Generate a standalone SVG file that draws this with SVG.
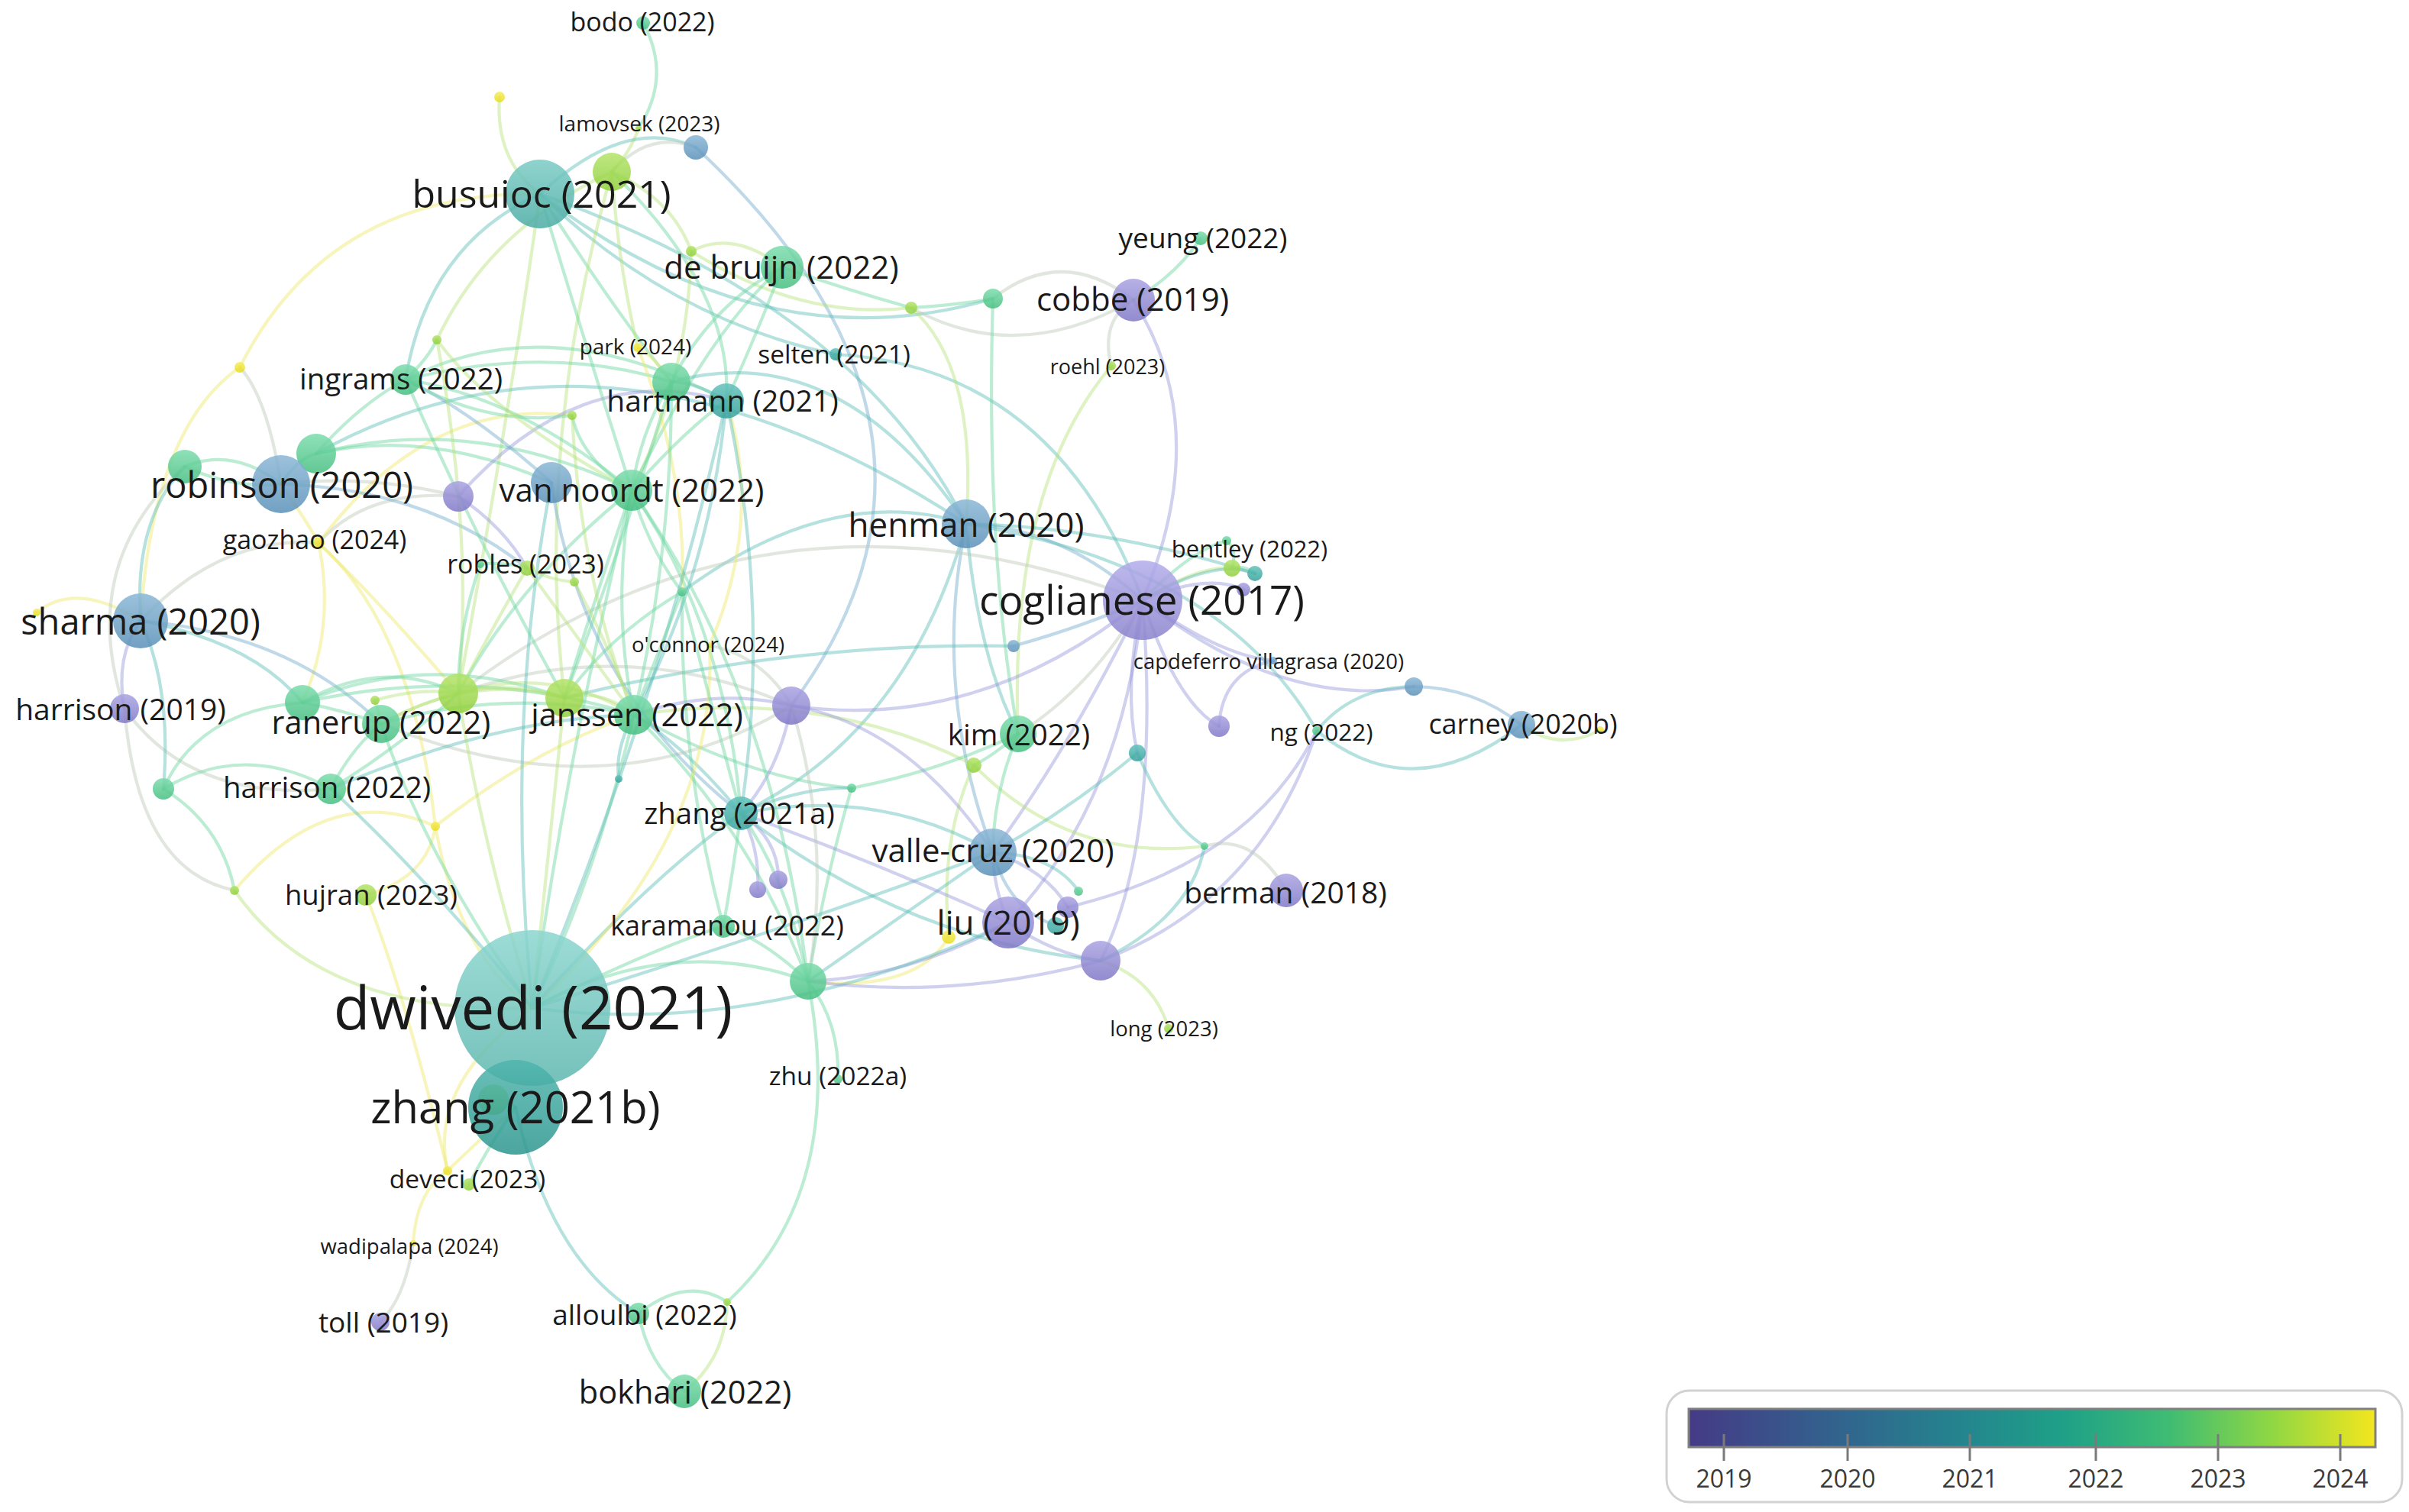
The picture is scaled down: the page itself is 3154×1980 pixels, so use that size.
<svg xmlns="http://www.w3.org/2000/svg" width="3154" height="1980" viewBox="0 0 3154 1980">
<style>
#edges path{fill:none;stroke-width:4.2;stroke-opacity:.45;stroke-linecap:round}
.t{stroke:#5cbdb8}.g{stroke:#6bd6a0}.p{stroke:#9797dc}.b{stroke:#74aacb}.y{stroke:#eee86a}.yg{stroke:#b5e27a}.gy{stroke:#bccab8}
.nP{fill:url(#gP)}.nB{fill:url(#gB)}.nT{fill:url(#gT)}.nG{fill:url(#gG)}.nYG{fill:url(#gYG)}.nY{fill:url(#gY)}
circle{fill-opacity:.85}
text{font-family:"Open Sans","Liberation Sans",sans-serif;fill:#1a1a1a;text-anchor:middle;dominant-baseline:central}
.leg{font-size:32px;fill:#3a3a3a;dominant-baseline:auto}
</style>
<defs>
<linearGradient id="viridis" x1="0" y1="0" x2="1" y2="0">
<stop offset="0" stop-color="#453a86"/>
<stop offset="0.2" stop-color="#33608d"/>
<stop offset="0.4" stop-color="#24858e"/>
<stop offset="0.55" stop-color="#1fa187"/>
<stop offset="0.7" stop-color="#3fbc73"/>
<stop offset="0.85" stop-color="#90d743"/>
<stop offset="1" stop-color="#f4e61e"/>
</linearGradient>
<linearGradient id="gP" x1="0" y1="0" x2="0" y2="1"><stop offset="0" stop-color="#aaa3e2"/><stop offset="1" stop-color="#7f77c6"/></linearGradient>
<linearGradient id="gB" x1="0" y1="0" x2="0" y2="1"><stop offset="0" stop-color="#8ab7d6"/><stop offset="1" stop-color="#5a90b8"/></linearGradient>
<linearGradient id="gT" x1="0" y1="0" x2="0" y2="1"><stop offset="0" stop-color="#62c2bc"/><stop offset="1" stop-color="#35a09a"/></linearGradient>
<linearGradient id="gG" x1="0" y1="0" x2="0" y2="1"><stop offset="0" stop-color="#7cdcac"/><stop offset="1" stop-color="#45be80"/></linearGradient>
<linearGradient id="gYG" x1="0" y1="0" x2="0" y2="1"><stop offset="0" stop-color="#b4e46a"/><stop offset="1" stop-color="#8fcf3c"/></linearGradient>
<linearGradient id="gY" x1="0" y1="0" x2="0" y2="1"><stop offset="0" stop-color="#f6ec60"/><stop offset="1" stop-color="#e8dc1c"/></linearGradient>
<linearGradient id="gDw" x1="0" y1="0" x2="0" y2="1"><stop offset="0" stop-color="#8cd6cf"/><stop offset="1" stop-color="#5cb6ae"/></linearGradient>
<linearGradient id="gZb" x1="0" y1="0" x2="0" y2="1"><stop offset="0" stop-color="#4fb5ad"/><stop offset="1" stop-color="#2c968e"/></linearGradient>
<linearGradient id="gBu" x1="0" y1="0" x2="0" y2="1"><stop offset="0" stop-color="#7ccbc5"/><stop offset="1" stop-color="#4aaba4"/></linearGradient>
<linearGradient id="gCo" x1="0" y1="0" x2="0" y2="1"><stop offset="0" stop-color="#b2acea"/><stop offset="1" stop-color="#8a82cc"/></linearGradient>
</defs>
<rect width="3154" height="1980" fill="#ffffff"/>
<g id="edges">
<path class="g" d="M842 30 Q880 100 836 168"/>
<path class="yg" d="M836 168 Q825 200 801 225"/>
<path class="yg" d="M654 127 Q648 210 707 254"/>
<path class="t" d="M707 254 Q820 150 911 193"/>
<path class="gy" d="M801 225 Q850 170 911 193"/>
<path class="b" d="M911 193 Q1306 561 1036 924"/>
<path class="t" d="M707 254 Q880 420 1094 464"/>
<path class="t" d="M1094 464 Q1380 480 1496 786"/>
<path class="t" d="M707 254 Q560 320 531 497"/>
<path class="y" d="M707 254 Q430 250 314 481"/>
<path class="g" d="M707 254 Q800 400 879 500"/>
<path class="yg" d="M707 254 Q667 540 600 908"/>
<path class="t" d="M707 254 Q1000 480 1300 391"/>
<path class="t" d="M707 254 Q1120 400 1265 686"/>
<path class="yg" d="M801 225 Q810 350 835 455"/>
<path class="yg" d="M801 225 Q880 260 905 329"/>
<path class="g" d="M801 225 Q960 380 951 525"/>
<path class="yg" d="M801 225 Q700 580 739 914"/>
<path class="yg" d="M801 225 Q640 300 572 445"/>
<path class="yg" d="M905 329 Q960 300 1024 350"/>
<path class="yg" d="M905 329 Q1050 420 1193 403"/>
<path class="yg" d="M905 329 Q900 500 827 642"/>
<path class="g" d="M1024 350 Q1110 380 1193 403"/>
<path class="g" d="M1024 350 Q930 430 827 642"/>
<path class="g" d="M1024 350 Q990 440 951 525"/>
<path class="g" d="M1024 350 Q930 400 879 500"/>
<path class="g" d="M1193 403 Q1250 400 1300 391"/>
<path class="gy" d="M1300 391 Q1390 320 1484 393"/>
<path class="gy" d="M1193 403 Q1330 480 1484 393"/>
<path class="yg" d="M1193 403 Q1280 480 1265 686"/>
<path class="g" d="M1300 391 Q1290 720 1333 961"/>
<path class="g" d="M1572 312 Q1540 360 1484 393"/>
<path class="gy" d="M1455 479 Q1440 420 1484 393"/>
<path class="yg" d="M1455 479 Q1320 640 1333 961"/>
<path class="p" d="M1484 393 Q1590 560 1496 786"/>
<path class="b" d="M1265 686 Q1390 690 1496 786"/>
<path class="t" d="M1265 686 Q1450 690 1643 751"/>
<path class="t" d="M1265 686 Q1600 740 1724 957"/>
<path class="b" d="M1265 686 Q1220 900 1300 1116"/>
<path class="t" d="M1265 686 Q1280 860 1333 961"/>
<path class="t" d="M1265 686 Q1190 960 970 1065"/>
<path class="t" d="M879 500 Q1100 440 1265 686"/>
<path class="t" d="M893 775 Q1090 630 1265 686"/>
<path class="t" d="M414 594 Q800 380 1265 686"/>
<path class="gy" d="M600 908 Q1000 600 1496 786"/>
<path class="t" d="M739 914 Q1040 840 1327 846"/>
<path class="b" d="M1327 846 Q1420 820 1496 786"/>
<path class="p" d="M1496 786 Q1280 960 1036 924"/>
<path class="p" d="M1496 786 Q1400 980 1300 1116"/>
<path class="p" d="M1496 786 Q1470 1050 1320 1208"/>
<path class="gy" d="M1496 786 Q1430 900 1333 961"/>
<path class="p" d="M1496 786 Q1470 900 1489 986"/>
<path class="p" d="M1496 786 Q1540 920 1596 951"/>
<path class="g" d="M1496 786 Q1560 720 1606 708"/>
<path class="yg" d="M1496 786 Q1570 740 1613 744"/>
<path class="t" d="M1496 786 Q1590 730 1643 751"/>
<path class="p" d="M1496 786 Q1580 750 1628 772"/>
<path class="p" d="M1496 786 Q1680 930 1851 899"/>
<path class="p" d="M1496 786 Q1520 1100 1441 1258"/>
<path class="p" d="M1496 786 Q1600 860 1667 865"/>
<path class="g" d="M1606 708 Q1620 720 1613 744"/>
<path class="g" d="M1613 744 Q1630 740 1643 751"/>
<path class="p" d="M1596 951 Q1600 880 1667 865"/>
<path class="b" d="M1851 899 Q1930 900 1992 949"/>
<path class="t" d="M1851 899 Q1770 900 1724 957"/>
<path class="t" d="M1724 957 Q1850 1060 1992 949"/>
<path class="yg" d="M1992 949 Q2040 985 2095 956"/>
<path class="p" d="M1441 1258 Q1650 1180 1724 957"/>
<path class="p" d="M1398 1188 Q1640 1130 1724 957"/>
<path class="gy" d="M1577 1108 Q1640 1090 1684 1166"/>
<path class="t" d="M1577 1108 Q1560 1200 1441 1258"/>
<path class="t" d="M1489 986 Q1530 1080 1577 1108"/>
<path class="yg" d="M1275 1002 Q1400 1130 1577 1108"/>
<path class="yg" d="M830 936 Q1080 900 1275 1002"/>
<path class="g" d="M1333 961 Q1300 990 1275 1002"/>
<path class="yg" d="M1275 1002 Q1230 1100 1242 1227"/>
<path class="y" d="M1242 1227 Q1200 1300 1058 1285"/>
<path class="g" d="M1333 961 Q1230 1010 1115 1032"/>
<path class="g" d="M1115 1032 Q1080 1150 1058 1285"/>
<path class="g" d="M830 936 Q980 1020 1115 1032"/>
<path class="g" d="M1333 961 Q1300 1040 1300 1116"/>
<path class="t" d="M1300 1116 Q1400 1060 1489 986"/>
<path class="t" d="M1300 1116 Q1380 1120 1412 1167"/>
<path class="p" d="M1300 1116 Q1370 1140 1398 1188"/>
<path class="b" d="M1300 1116 Q1320 1190 1382 1212"/>
<path class="p" d="M1300 1116 Q1300 1160 1320 1208"/>
<path class="t" d="M1300 1116 Q1180 1200 1058 1285"/>
<path class="t" d="M1300 1116 Q1150 1030 970 1065"/>
<path class="t" d="M1300 1116 Q1050 1210 697 1320"/>
<path class="p" d="M1036 924 Q1190 950 1300 1116"/>
<path class="p" d="M1320 1208 Q1380 1250 1441 1258"/>
<path class="p" d="M1320 1208 Q1190 1280 1058 1285"/>
<path class="p" d="M1320 1208 Q1150 1130 970 1065"/>
<path class="t" d="M697 1320 Q1000 1360 1320 1208"/>
<path class="p" d="M1058 1285 Q1250 1310 1441 1258"/>
<path class="yg" d="M1441 1258 Q1510 1280 1530 1347"/>
<path class="p" d="M970 1065 Q995 1110 992 1165"/>
<path class="p" d="M970 1065 Q1020 1100 1019 1152"/>
<path class="t" d="M970 1065 Q1180 1230 1441 1258"/>
<path class="t" d="M970 1065 Q850 1150 697 1320"/>
<path class="t" d="M970 1065 Q900 980 830 936"/>
<path class="t" d="M970 1065 Q1050 1030 1115 1032"/>
<path class="p" d="M1036 924 Q1020 1010 970 1065"/>
<path class="p" d="M1036 924 Q940 900 830 936"/>
<path class="gy" d="M600 908 Q820 830 1036 924"/>
<path class="gy" d="M499 948 Q800 1070 1036 924"/>
<path class="gy" d="M1036 924 Q1090 1100 1058 1285"/>
<path class="g" d="M1058 1285 Q1000 1230 947 1213"/>
<path class="g" d="M1058 1285 Q1100 1340 1097 1413"/>
<path class="g" d="M1058 1285 Q1110 1560 952 1705"/>
<path class="g" d="M1058 1285 Q880 1220 697 1320"/>
<path class="g" d="M1058 1285 Q980 1080 830 936"/>
<path class="g" d="M1058 1285 Q1010 900 827 642"/>
<path class="g" d="M1058 1285 Q1030 1150 970 1065"/>
<path class="g" d="M947 1213 Q860 1240 697 1320"/>
<path class="g" d="M947 1213 Q960 1140 970 1065"/>
<path class="g" d="M947 1213 Q890 1000 893 775"/>
<path class="g" d="M836 1720 Q850 1790 896 1822"/>
<path class="g" d="M836 1720 Q900 1670 952 1705"/>
<path class="yg" d="M952 1705 Q950 1780 896 1822"/>
<path class="t" d="M675 1450 Q720 1650 836 1720"/>
<path class="gy" d="M498 1731 Q530 1700 541 1628"/>
<path class="y" d="M541 1628 Q545 1560 586 1533"/>
<path class="y" d="M586 1533 Q560 1420 697 1320"/>
<path class="y" d="M586 1533 Q620 1500 675 1450"/>
<path class="g" d="M614 1551 Q640 1500 675 1450"/>
<path class="y" d="M586 1533 Q530 1300 479 1172"/>
<path class="y" d="M570 1082 Q560 1150 479 1172"/>
<path class="y" d="M570 1082 Q700 980 830 936"/>
<path class="y" d="M570 1082 Q600 1250 697 1320"/>
<path class="y" d="M417 711 Q540 820 570 1082"/>
<path class="y" d="M417 711 Q490 780 600 908"/>
<path class="y" d="M417 711 Q440 820 396 920"/>
<path class="y" d="M417 711 Q400 680 368 634"/>
<path class="gy" d="M417 711 Q480 640 600 650"/>
<path class="y" d="M417 711 Q560 520 749 544"/>
<path class="gy" d="M417 711 Q290 700 184 813"/>
<path class="gy" d="M314 481 Q350 520 368 634"/>
<path class="y" d="M314 481 Q200 560 184 813"/>
<path class="y" d="M48 802 Q100 760 184 813"/>
<path class="g" d="M242 611 Q305 585 368 634"/>
<path class="g" d="M242 611 Q305 640 368 634"/>
<path class="g" d="M368 634 Q390 600 414 594"/>
<path class="g" d="M414 594 Q470 530 531 497"/>
<path class="g" d="M414 594 Q560 560 722 632"/>
<path class="g" d="M414 594 Q620 540 827 642"/>
<path class="gy" d="M368 634 Q480 620 600 650"/>
<path class="b" d="M368 634 Q560 640 690 744"/>
<path class="p" d="M600 650 Q760 470 951 525"/>
<path class="p" d="M600 650 Q660 690 690 744"/>
<path class="t" d="M242 611 Q175 680 184 813"/>
<path class="gy" d="M242 611 Q100 740 163 928"/>
<path class="p" d="M163 928 Q150 860 184 813"/>
<path class="gy" d="M163 928 Q180 1140 307 1166"/>
<path class="gy" d="M163 928 Q250 1050 433 1033"/>
<path class="yg" d="M307 1166 Q420 1330 697 1320"/>
<path class="t" d="M214 1033 Q225 900 184 813"/>
<path class="g" d="M214 1033 Q260 930 396 920"/>
<path class="g" d="M214 1033 Q320 970 433 1033"/>
<path class="g" d="M214 1033 Q290 1080 307 1166"/>
<path class="y" d="M307 1166 Q430 1020 570 1082"/>
<path class="t" d="M184 813 Q330 840 396 920"/>
<path class="b" d="M184 813 Q380 830 499 948"/>
<path class="g" d="M396 920 Q500 860 600 908"/>
<path class="g" d="M396 920 Q560 850 739 914"/>
<path class="g" d="M396 920 Q620 870 830 936"/>
<path class="g" d="M396 920 Q450 930 499 948"/>
<path class="yg" d="M499 948 Q550 920 600 908"/>
<path class="yg" d="M499 948 Q620 880 739 914"/>
<path class="g" d="M499 948 Q660 900 830 936"/>
<path class="g" d="M499 948 Q560 1130 697 1320"/>
<path class="g" d="M499 948 Q460 980 433 1033"/>
<path class="yg" d="M491 917 Q495 930 499 948"/>
<path class="yg" d="M491 917 Q550 900 600 908"/>
<path class="t" d="M433 1033 Q650 940 830 936"/>
<path class="t" d="M433 1033 Q560 1150 697 1320"/>
<path class="g" d="M433 1033 Q520 980 600 908"/>
<path class="yg" d="M600 908 Q720 870 830 936"/>
<path class="yg" d="M600 908 Q670 890 739 914"/>
<path class="yg" d="M600 908 Q630 1100 697 1320"/>
<path class="yg" d="M739 914 Q785 900 830 936"/>
<path class="yg" d="M739 914 Q720 1100 697 1320"/>
<path class="g" d="M830 936 Q780 1150 697 1320"/>
<path class="g" d="M827 642 Q800 790 830 936"/>
<path class="g" d="M827 642 Q780 780 739 914"/>
<path class="g" d="M827 642 Q680 760 600 908"/>
<path class="g" d="M827 642 Q900 560 951 525"/>
<path class="g" d="M827 642 Q840 560 879 500"/>
<path class="g" d="M827 642 Q680 520 531 497"/>
<path class="g" d="M827 642 Q740 1000 697 1320"/>
<path class="g" d="M827 642 Q950 820 970 1065"/>
<path class="g" d="M827 642 Q850 720 893 775"/>
<path class="g" d="M827 642 Q760 430 707 254"/>
<path class="g" d="M827 642 Q760 600 749 544"/>
<path class="b" d="M722 632 Q760 900 970 1065"/>
<path class="b" d="M722 632 Q620 540 531 497"/>
<path class="t" d="M697 1320 Q660 950 722 632"/>
<path class="g" d="M531 497 Q640 560 749 544"/>
<path class="g" d="M531 497 Q720 450 879 500"/>
<path class="g" d="M531 497 Q560 470 572 445"/>
<path class="g" d="M531 497 Q620 700 739 914"/>
<path class="g" d="M531 497 Q720 400 951 525"/>
<path class="yg" d="M572 445 Q640 540 827 642"/>
<path class="yg" d="M572 445 Q620 700 600 908"/>
<path class="yg" d="M749 544 Q760 760 830 936"/>
<path class="y" d="M835 455 Q860 470 879 500"/>
<path class="y" d="M835 455 Q900 620 893 775"/>
<path class="y" d="M929 845 Q940 1100 697 1320"/>
<path class="y" d="M929 845 Q1000 680 951 525"/>
<path class="gy" d="M929 845 Q1000 860 1036 924"/>
<path class="t" d="M951 525 Q910 500 879 500"/>
<path class="t" d="M951 525 Q930 750 830 936"/>
<path class="t" d="M951 525 Q1010 800 970 1065"/>
<path class="t" d="M951 525 Q870 900 697 1320"/>
<path class="g" d="M879 500 Q880 720 830 936"/>
<path class="g" d="M879 500 Q820 700 739 914"/>
<path class="g" d="M690 744 Q660 735 629 739"/>
<path class="yg" d="M690 744 Q720 760 752 762"/>
<path class="yg" d="M690 744 Q760 840 830 936"/>
<path class="yg" d="M690 744 Q640 830 600 908"/>
<path class="yg" d="M752 762 Q800 850 830 936"/>
<path class="g" d="M629 739 Q600 820 600 908"/>
<path class="g" d="M893 775 Q860 860 830 936"/>
<path class="g" d="M893 775 Q800 830 739 914"/>
<path class="g" d="M893 775 Q930 920 970 1065"/>
<path class="t" d="M810 1020 Q805 980 830 936"/>
<path class="t" d="M675 1450 Q660 1440 646 1440"/>
</g>
<g id="nodes">
<g id="n-bvn"><circle class="nB" cx="722" cy="632" r="27"/></g>
<g id="n-blam"><circle class="nB" cx="911" cy="193" r="16"/></g>
<g id="n-yglam"><circle class="nYG" cx="801" cy="225" r="25"/></g>
<g id="n-35"><circle class="nYG" cx="1613" cy="744" r="11"/></g>
<g id="n-36"><circle class="nT" cx="1643" cy="751" r="10"/></g>
<g id="n-37"><circle class="nP" cx="1628" cy="772" r="9"/></g>
<g id="n-39"><circle class="nB" cx="1851" cy="899" r="12"/></g>
<g id="n-41"><circle class="nY" cx="2095" cy="956" r="5"/></g>
<g id="n-42"><circle class="nP" cx="1596" cy="951" r="14"/></g>
<g id="n-43"><circle class="nT" cx="1489" cy="986" r="11"/></g>
<g id="n-44"><circle class="nB" cx="1327" cy="846" r="8"/></g>
<g id="n-45"><circle class="nYG" cx="1275" cy="1002" r="10"/></g>
<g id="n-46"><circle class="nG" cx="1115" cy="1032" r="6"/></g>
<g id="n-47"><circle class="nP" cx="1036" cy="924" r="25"/></g>
<g id="n-48"><circle class="nG" cx="1058" cy="1285" r="24"/></g>
<g id="n-50"><circle class="nP" cx="992" cy="1165" r="11"/></g>
<g id="n-51"><circle class="nP" cx="1019" cy="1152" r="12"/></g>
<g id="n-52"><circle class="nT" cx="810" cy="1020" r="5"/></g>
<g id="n-53"><circle class="nY" cx="1242" cy="1227" r="9"/></g>
<g id="n-54"><circle class="nP" cx="1398" cy="1188" r="14"/></g>
<g id="n-55"><circle class="nT" cx="1382" cy="1212" r="11"/></g>
<g id="n-56"><circle class="nG" cx="1412" cy="1167" r="6"/></g>
<g id="n-57"><circle class="nP" cx="1441" cy="1258" r="26"/></g>
<g id="n-58"><circle class="nG" cx="1577" cy="1108" r="5"/></g>
<g id="n-61"><circle class="nY" cx="586" cy="1533" r="6"/></g>
<g id="n-64"><circle class="nYG" cx="952" cy="1705" r="5"/></g>
<g id="n-66"><circle class="nY" cx="570" cy="1082" r="6"/></g>
<g id="n-67"><circle class="nYG" cx="307" cy="1166" r="6"/></g>
<g id="n-68"><circle class="nG" cx="214" cy="1033" r="14"/></g>
<g id="n-69"><circle class="nG" cx="396" cy="920" r="23"/></g>
<g id="n-70"><circle class="nYG" cx="491" cy="917" r="6"/></g>
<g id="n-71"><circle class="nYG" cx="600" cy="908" r="26"/></g>
<g id="n-72"><circle class="nYG" cx="739" cy="914" r="25"/></g>
<g id="n-74"><circle class="nG" cx="893" cy="775" r="6"/></g>
<g id="n-75"><circle class="nYG" cx="752" cy="762" r="6"/></g>
<g id="n-77"><circle class="nG" cx="629" cy="739" r="5"/></g>
<g id="n-79"><circle class="nP" cx="600" cy="650" r="20"/></g>
<g id="n-80"><circle class="nG" cx="414" cy="594" r="26"/></g>
<g id="n-81"><circle class="nG" cx="242" cy="611" r="22"/></g>
<g id="n-82"><circle class="nY" cx="314" cy="481" r="7"/></g>
<g id="n-83"><circle class="nYG" cx="572" cy="445" r="6"/></g>
<g id="n-84"><circle class="nYG" cx="749" cy="544" r="6"/></g>
<g id="n-85"><circle class="nG" cx="879" cy="500" r="25"/></g>
<g id="n-86"><circle class="nYG" cx="905" cy="329" r="7"/></g>
<g id="n-87"><circle class="nY" cx="654" cy="127" r="7"/></g>
<g id="n-88"><circle class="nYG" cx="1193" cy="403" r="8"/></g>
<g id="n-89"><circle class="nG" cx="1300" cy="391" r="13"/></g>
<g id="n-90"><circle class="nY" cx="48" cy="802" r="5"/></g>
<g id="n-95"><circle class="nYG" cx="646" cy="1440" r="20" fill-opacity=".5"/></g>

<g id="n-dwivedi"><circle cx="697" cy="1320" r="102" fill="url(#gDw)"/><text x="698" y="1318" font-size="78">dwivedi (2021)</text></g>
<g id="n-zhang2021b"><circle cx="675" cy="1450" r="62" fill="url(#gZb)"/><text x="675" y="1448" font-size="58">zhang (2021b)</text></g>
<g id="n-coglianese"><circle cx="1496" cy="786" r="52" fill="url(#gCo)"/><text x="1495" y="784" font-size="53">coglianese (2017)</text></g>
<g id="n-busuioc"><circle cx="707" cy="254" r="45" fill="url(#gBu)"/><text x="709" y="253" font-size="50">busuioc (2021)</text></g>
<g id="n-robinson"><circle class="nB" cx="368" cy="634" r="38"/><text x="369" y="634" font-size="47">robinson (2020)</text></g>
<g id="n-sharma"><circle class="nB" cx="184" cy="813" r="36"/><text x="184" y="813" font-size="47">sharma (2020)</text></g>
<g id="n-liu"><circle class="nP" cx="1320" cy="1208" r="34"/><text x="1320" y="1207" font-size="44">liu (2019)</text></g>
<g id="n-henman"><circle class="nB" cx="1265" cy="686" r="32"/><text x="1265" y="686" font-size="44">henman (2020)</text></g>
<g id="n-vallecruz"><circle class="nB" cx="1300" cy="1116" r="31"/><text x="1300" y="1112" font-size="42">valle-cruz (2020)</text></g>
<g id="n-cobbe"><circle class="nP" cx="1484" cy="393" r="28"/><text x="1483" y="390" font-size="42">cobbe (2019)</text></g>
<g id="n-debruijn"><circle class="nG" cx="1024" cy="350" r="28"/><text x="1023" y="348" font-size="42">de bruijn (2022)</text></g>
<g id="n-vannoordt"><circle class="nG" cx="827" cy="642" r="27"/><text x="827" y="640" font-size="42">van noordt (2022)</text></g>
<g id="n-janssen"><circle class="nG" cx="830" cy="936" r="26"/><text x="834" y="935" font-size="41.5">janssen (2022)</text></g>
<g id="n-ranerup"><circle class="nG" cx="499" cy="948" r="25"/><text x="499" y="945" font-size="41.5">ranerup (2022)</text></g>
<g id="n-kim"><circle class="nG" cx="1333" cy="961" r="24"/><text x="1334" y="961" font-size="38.5">kim (2022)</text></g>
<g id="n-hartmann"><circle class="nT" cx="951" cy="525" r="23"/><text x="946" y="523" font-size="39">hartmann (2021)</text></g>
<g id="n-berman"><circle class="nP" cx="1684" cy="1166" r="22"/><text x="1683" y="1167" font-size="39">berman (2018)</text></g>
<g id="n-zhang2021a"><circle class="nT" cx="970" cy="1065" r="22"/><text x="968" y="1064" font-size="38.5">zhang (2021a)</text></g>
<g id="n-bokhari"><circle class="nG" cx="896" cy="1822" r="22"/><text x="897" y="1822" font-size="41.5">bokhari (2022)</text></g>
<g id="n-harrison2022"><circle class="nG" cx="433" cy="1033" r="20"/><text x="428" y="1030" font-size="38.5">harrison (2022)</text></g>
<g id="n-ingrams"><circle class="nG" cx="531" cy="497" r="20"/><text x="525" y="495" font-size="38.5">ingrams (2022)</text></g>
<g id="n-harrison2019"><circle class="nP" cx="163" cy="928" r="19"/><text x="158" y="927" font-size="39">harrison (2019)</text></g>
<g id="n-carney"><circle class="nB" cx="1992" cy="949" r="18"/><text x="1994" y="947" font-size="36">carney (2020b)</text></g>
<g id="n-karamanou"><circle class="nG" cx="947" cy="1213" r="15"/><text x="952" y="1211" font-size="36">karamanou (2022)</text></g>
<g id="n-hujran"><circle class="nYG" cx="479" cy="1172" r="14"/><text x="486" y="1171" font-size="36.5">hujran (2023)</text></g>
<g id="n-alloulbi"><circle class="nG" cx="836" cy="1720" r="14"/><text x="844" y="1720" font-size="37">alloulbi (2022)</text></g>
<g id="n-toll"><circle class="nP" cx="498" cy="1731" r="12"/><text x="502" y="1730" font-size="37">toll (2019)</text></g>
<g id="n-robles"><circle class="nYG" cx="690" cy="744" r="10"/><text x="688" y="738" font-size="34">robles (2023)</text></g>
<g id="n-bodo"><circle class="nG" cx="842" cy="30" r="9"/><text x="841" y="28" font-size="34">bodo (2022)</text></g>
<g id="n-yeung"><circle class="nG" cx="1572" cy="312" r="9"/><text x="1575" y="310" font-size="37">yeung (2022)</text></g>
<g id="n-selten"><circle class="nT" cx="1094" cy="464" r="8"/><text x="1092" y="463" font-size="33.5">selten (2021)</text></g>
<g id="n-gaozhao"><circle class="nY" cx="417" cy="711" r="8"/><text x="412" y="706" font-size="34">gaozhao (2024)</text></g>
<g id="n-deveci"><circle class="nYG" cx="614" cy="1551" r="8"/><text x="612" y="1543" font-size="33.5">deveci (2023)</text></g>
<g id="n-park"><circle class="nY" cx="835" cy="455" r="6"/><text x="832" y="453" font-size="28">park (2024)</text></g>
<g id="n-roehl"><circle class="nYG" cx="1455" cy="479" r="6"/><text x="1450" y="479" font-size="27">roehl (2023)</text></g>
<g id="n-bentley"><circle class="nG" cx="1606" cy="708" r="6"/><text x="1636" y="718" font-size="31">bentley (2022)</text></g>
<g id="n-ng"><circle class="nG" cx="1724" cy="957" r="6"/><text x="1730" y="957" font-size="31.5">ng (2022)</text></g>
<g id="n-zhu"><circle class="nG" cx="1097" cy="1413" r="6"/><text x="1097" y="1408" font-size="33.5">zhu (2022a)</text></g>
<g id="n-long"><circle class="nYG" cx="1530" cy="1347" r="6"/><text x="1524" y="1346" font-size="27.5">long (2023)</text></g>
<g id="n-capdeferro"><circle class="nB" cx="1667" cy="865" r="5"/><text x="1661" y="865" font-size="27.5">capdeferro villagrasa (2020)</text></g>
<g id="n-lamovsek"><circle class="nYG" cx="836" cy="168" r="4"/><text x="837" y="161" font-size="28">lamovsek (2023)</text></g>
<g id="n-oconnor"><circle class="nY" cx="929" cy="845" r="4"/><text x="927" y="843" font-size="27.5">o'connor (2024)</text></g>
<g id="n-wadipalapa"><circle class="nY" cx="541" cy="1628" r="4"/><text x="536" y="1631" font-size="27.5">wadipalapa (2024)</text></g>
</g>
<g id="legend">
<rect x="2182" y="1821" width="963" height="146" rx="30" fill="#ffffff" stroke="#d2d2d2" stroke-width="3"/>
<rect x="2211" y="1845" width="899" height="50" fill="url(#viridis)" stroke="#808080" stroke-width="3"/>
<g stroke="#7a7a7a" stroke-width="3">
<line x1="2257" y1="1878" x2="2257" y2="1913"/>
<line x1="2419" y1="1878" x2="2419" y2="1913"/>
<line x1="2579" y1="1878" x2="2579" y2="1913"/>
<line x1="2744" y1="1878" x2="2744" y2="1913"/>
<line x1="2904" y1="1878" x2="2904" y2="1913"/>
<line x1="3064" y1="1878" x2="3064" y2="1913"/>
</g>
<text class="leg" x="2257" y="1948">2019</text>
<text class="leg" x="2419" y="1948">2020</text>
<text class="leg" x="2579" y="1948">2021</text>
<text class="leg" x="2744" y="1948">2022</text>
<text class="leg" x="2904" y="1948">2023</text>
<text class="leg" x="3064" y="1948">2024</text>
</g>
</svg>
